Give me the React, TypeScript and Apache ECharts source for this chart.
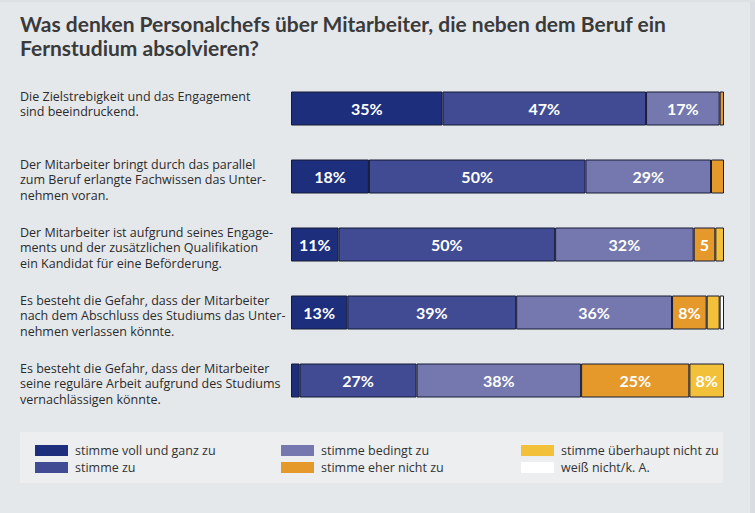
import React, { useEffect, useRef } from "react";
import * as echarts from "echarts";

const titleText = "Was denken Personalchefs über Mitarbeiter, die neben dem Beruf ein\nFernstudium absolvieren?";

const categories = [
  "Die Zielstrebigkeit und das Engagement\nsind beeindruckend.",
  "Der Mitarbeiter bringt durch das parallel\nzum Beruf erlangte Fachwissen das Unter-\nnehmen voran.",
  "Der Mitarbeiter ist aufgrund seines Engage-\nments und der zusätzlichen Qualifikation\nein Kandidat für eine Beförderung.",
  "Es besteht die Gefahr, dass der Mitarbeiter\nnach dem Abschluss des Studiums das Unter-\nnehmen verlassen könnte.",
  "Es besteht die Gefahr, dass der Mitarbeiter\nseine reguläre Arbeit aufgrund des Studiums\nvernachlässigen könnte.",
];

const seriesNames = [
  "stimme voll und ganz zu",
  "stimme zu",
  "stimme bedingt zu",
  "stimme eher nicht zu",
  "stimme überhaupt nicht zu",
  "weiß nicht/k. A.",
];

const vollUndGanz = [35, 18, 11, 13, 2];
const stimmeZu = [47, 50, 50, 39, 27];
const bedingt = [17, 29, 32, 36, 38];
const eherNicht = [1, 3, 5, 8, 25];
const ueberhauptNicht = [0, 0, 2, 3, 8];
const weissNicht = [0, 0, 0, 1, 0];

const seriesValues = [vollUndGanz, stimmeZu, bedingt, eherNicht, ueberhauptNicht, weissNicht];
const colors = ["#1c2e7c", "#404b93", "#7478ae", "#e5992b", "#f3c03a", "#ffffff"];

const FONT = "Lato, 'Open Sans', sans-serif";
const BODY_FONT = "'Open Sans', Lato, sans-serif";

export default function App() {
  const ref = useRef<HTMLDivElement>(null);
  useEffect(() => {
    if (!ref.current) return;
    const chart = echarts.init(ref.current, undefined, { renderer: "svg" });
    const barSeries = seriesValues.map((vals, si) => ({
      name: seriesNames[si],
      type: "bar",
      stack: "total",
      barWidth: 34,
      data: vals.map((v) => (v === 0 ? null : v)),
      itemStyle: { color: colors[si], borderColor: "#151a35", borderWidth: 1 },
      label: {
        show: true,
        position: "inside",
        color: "#ffffff",
        fontFamily: FONT,
        fontWeight: "bold",
        fontSize: 16,
        formatter: (p: any) => (p.value >= 8 ? p.value + "%" : p.value >= 5 ? String(p.value) : ""),
      },
    }));
    const legendBase = {
      orient: "vertical",
      top: 444,
      itemWidth: 33,
      itemHeight: 11,
      itemGap: 4,
      icon: "rect",
      itemStyle: { borderWidth: 0 },
      textStyle: { fontFamily: BODY_FONT, fontSize: 12.5, color: "#333333", padding: [0, 0, 0, 2] },
      padding: 0,
      selectedMode: false,
    };
    chart.setOption({
      animation: false,
      backgroundColor: "#e5e8eb",
      title: {
        text: titleText,
        left: 20,
        top: 11,
        padding: 0,
        textStyle: { fontFamily: FONT, fontSize: 21, fontWeight: "bold", color: "#3a3a3a", lineHeight: 24 },
      },
      graphic: [
        {
          type: "rect",
          shape: { x: 20, y: 432, width: 703, height: 51 },
          style: { fill: "#eceef0" },
          z: -1,
        },
        {
          type: "rect",
          shape: { x: 750, y: 0, width: 5, height: 513 },
          style: { fill: "#d9dde1" },
          z: -1,
        },
        {
          type: "rect",
          shape: { x: 0, y: 0, width: 755, height: 2 },
          style: { fill: "#dde1e4" },
          z: -1,
        },
      ],
      legend: [
        { ...legendBase, left: 35, data: [seriesNames[0], seriesNames[1]] },
        { ...legendBase, left: 281, data: [seriesNames[2], seriesNames[3]] },
        { ...legendBase, left: 521, data: [seriesNames[4], seriesNames[5]] },
      ],
      grid: { left: 291, right: 31, top: 74.5, height: 340 },
      xAxis: { type: "value", min: 0, max: 100, show: false },
      yAxis: {
        type: "category",
        data: categories,
        inverse: true,
        axisLine: { show: false },
        axisTick: { show: false },
        axisLabel: { show: false },
      },
      series: [
        ...barSeries,
        {
          type: "custom",
          clip: false,
          silent: true,
          data: categories.map((_, i) => [0, i]),
          renderItem: (params: any, api: any) => {
            const idx = api.value(1);
            const y = api.coord([0, idx])[1];
            return {
              type: "text",
              x: 20,
              y: y - 20,
              style: {
                text: categories[idx],
                fill: "#2b2b2b",
                fontFamily: BODY_FONT,
                fontSize: 12.5,
                lineHeight: 15.5,
                verticalAlign: "top",
                align: "left",
              },
            };
          },
        },
      ],
    });
    return () => chart.dispose();
  }, []);
  return <div ref={ref} style={{ position: "fixed", left: 0, top: 0, width: 755, height: 513 }} />;
}
